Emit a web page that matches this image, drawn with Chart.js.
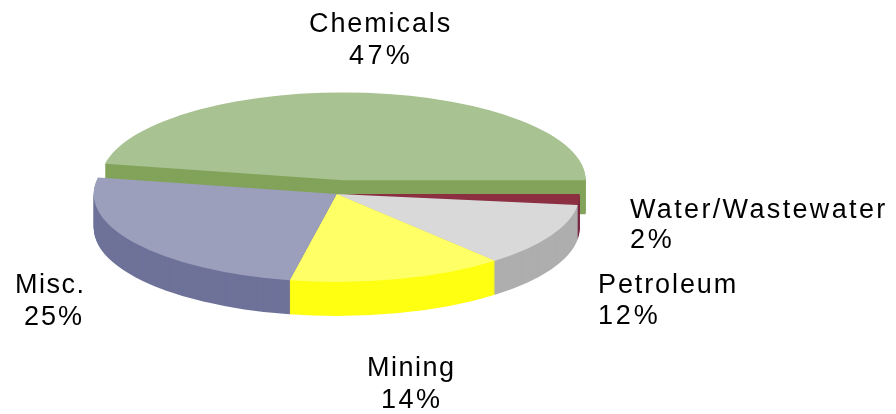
<!DOCTYPE html>
<html>
<head>
<meta charset="utf-8">
<title>Share by sector</title>
<script src="https://cdn.jsdelivr.net/npm/chart.js@4"></script>
<style>
    html, body { margin: 0; padding: 0; background: #fff; }
    canvas { display: block; }
</style>
</head>
<body>
<canvas id="sectorPie" width="896" height="414"></canvas>
<script>
// values (slice sizes estimated, labels show them rounded)
const categories = ["Chemicals", "Water/Wastewater", "Petroleum", "Mining", "Misc."];
const shares = [47, 2, 11.7, 14.4, 24.9];

const topColors = ["#A8C291", "#8C2F41", "#D9D9D9", "#FFFF66", "#9C9FBB"];
const sideColors = ["#82A35A", "#7A2840", "#AEAEAE", "#FFFF12", "#6E7299"];

// tilt of the fake 3D pie
const SQUASH = 88 / 243;
const DEPTH = 34;

// how far the Chemicals slice is pulled out of the pie, before squashing
const EXPLODE = [{ dx: 6.5, dy: -38, dr: -0.5 }, null, null, null, null];

// text lines: one per label line, left edge, baseline and letter spacing
const labelLines = [
    { text: categories[0], x: 309, y: 32, spacing: 1.9 },
    { text: Math.round(shares[0]) + "%", x: 349, y: 64, spacing: 3.4 },
    { text: categories[1], x: 630, y: 218, spacing: 2.35 },
    { text: Math.round(shares[1]) + "%", x: 630, y: 248, spacing: 2.8 },
    { text: categories[2], x: 598, y: 293, spacing: 1.9 },
    { text: Math.round(shares[2]) + "%", x: 598, y: 324, spacing: 2.8 },
    { text: categories[3], x: 367, y: 376, spacing: 1.5 },
    { text: Math.round(shares[3]) + "%", x: 381, y: 408, spacing: 2.5 },
    { text: categories[4], x: 15, y: 293, spacing: 1.5 },
    { text: Math.round(shares[4]) + "%", x: 24, y: 325, spacing: 2 }
];

// squashes the pie into an ellipse and draws the side walls under it
const tiltedPie = {
    id: "tiltedPie",
    afterDatasetsUpdate(chart) {
        chart.getDatasetMeta(0).data.forEach((arc, i) => {
            if (EXPLODE[i]) {
                arc.x += EXPLODE[i].dx;
                arc.y += EXPLODE[i].dy;
                arc.outerRadius += EXPLODE[i].dr;
            }
        });
    },
    beforeDatasetsDraw(chart) {
        const ctx = chart.ctx;
        const area = chart.chartArea;
        const centerY = (area.top + area.bottom) / 2;

        ctx.save();
        ctx.translate(0, centerY);
        ctx.scale(1, SQUASH);
        ctx.translate(0, -centerY);

        // back to front, so nearer walls cover the farther ones
        const arcs = chart.getDatasetMeta(0).data.map((arc, i) => ({ arc, i }));
        arcs.sort((a, b) => Math.sin((a.arc.startAngle + a.arc.endAngle) / 2) - Math.sin((b.arc.startAngle + b.arc.endAngle) / 2));

        arcs.forEach(({ arc, i }) => {
            ctx.fillStyle = sideColors[i];
            for (let d = DEPTH; d >= 1; d--) {
                const wallY = arc.y + d / SQUASH;
                ctx.beginPath();
                ctx.moveTo(arc.x, wallY);
                ctx.arc(arc.x, wallY, arc.outerRadius, arc.startAngle, arc.endAngle);
                ctx.closePath();
                ctx.fill();
            }
        });
    },
    afterDatasetsDraw(chart) {
        const ctx = chart.ctx;
        ctx.restore();

        ctx.save();
        ctx.fillStyle = "#000";
        ctx.font = '27px "Liberation Sans"';
        ctx.textAlign = "left";
        ctx.textBaseline = "alphabetic";
        labelLines.forEach(line => {
            ctx.letterSpacing = line.spacing + "px";
            ctx.fillText(line.text, line.x, line.y);
        });
        ctx.restore();
    }
};

const sectorChart = new Chart(document.getElementById("sectorPie"), {
    type: "pie",
    data: {
        labels: categories,
        datasets: [{
            data: shares,
            backgroundColor: topColors,
            borderWidth: 0,
            clip: false
        }]
    },
    options: {
        responsive: false,
        animation: false,
        events: [],
        rotation: -79.2,
        radius: 243,
        layout: { padding: { right: 222.6, bottom: 26 } },
        plugins: {
            legend: { display: false },
            tooltip: { enabled: false }
        }
    },
    plugins: [tiltedPie]
});
</script>
</body>
</html>
